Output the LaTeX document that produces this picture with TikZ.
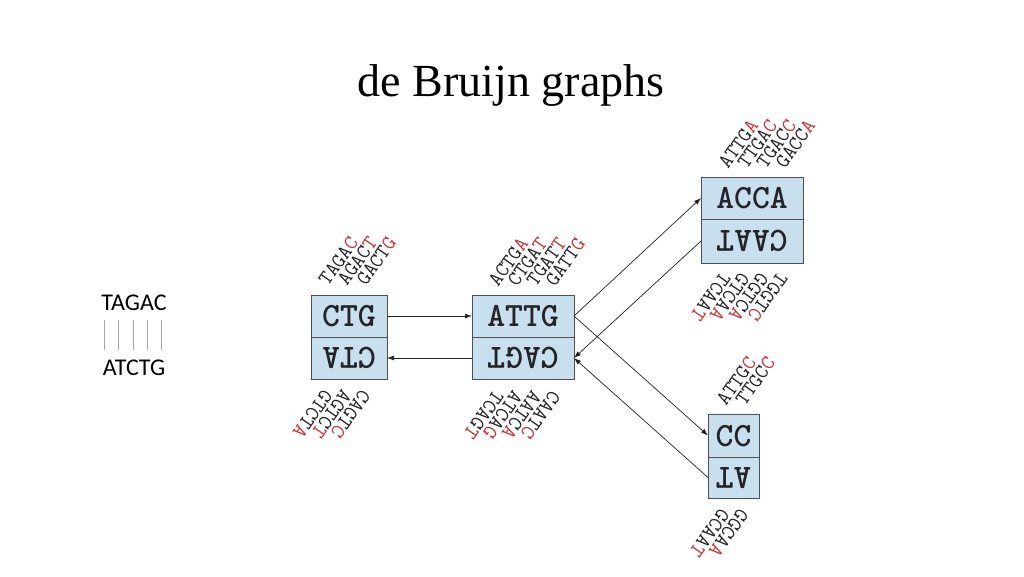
\documentclass[tikz,border=0pt]{standalone}
\usepackage{fontspec}
\setmainfont{Liberation Serif}
\newfontfamily\calib{Carlito}
\usetikzlibrary{arrows.meta}
\definecolor{boxblue}{RGB}{200,224,238}
\definecolor{dred}{RGB}{205,50,55}
\definecolor{ink}{RGB}{35,35,40}
\newcommand{\kl}[2]{#1\textcolor{dred}{#2}}
\tikzset{
  kbox/.style={draw=ink!80, fill=boxblue, line width=0.8pt},
  ktxt/.style={font=\ttfamily\bfseries\fontsize{34}{34}\selectfont, text=ink},
  toplab/.style={font=\ttfamily\fontsize{21}{21}\selectfont, rotate=55, anchor=base west, inner sep=0pt, text=ink},
  botlab/.style={font=\ttfamily\fontsize{21}{21}\selectfont, rotate=235, anchor=base west, inner sep=0pt, text=ink},
  arr/.style={-{Latex[length=7pt,width=5pt]}, draw=ink, line width=0.7pt}
}
\begin{document}
\begin{tikzpicture}[x=1pt,y=-1pt]
\useasboundingbox (0,0) rectangle (1024,576);
\node[font=\fontsize{46}{46}\selectfont] (title) at (511,86) {de Bruijn graphs};
% left strand
\node[font=\calib\fontsize{24}{24}\selectfont] (s1) at (134,303) {TAGAC};
\node[font=\calib\fontsize{24}{24}\selectfont] (s2) at (134,368) {ATCTG};
\foreach \x in {104,118,133,147,161}{\draw[gray!70, line width=0.5pt] (\x,320) -- (\x,350);}
% boxes
\def\mkbox#1#2#3#4#5#6{%
  \draw[kbox] (#2,#3) rectangle (#4,#6);
  \draw[ink!80, line width=0.8pt] (#2,#5) -- (#4,#5);
  \coordinate (#1tl) at (#2,{(#3+#5)/2});
  \coordinate (#1tr) at (#4,{(#3+#5)/2});
  \coordinate (#1bl) at (#2,{(#5+#6)/2});
  \coordinate (#1br) at (#4,{(#5+#6)/2});
}
\mkbox{a}{311}{295}{387}{337}{379}
\mkbox{b}{472}{295}{574}{337}{379}
\mkbox{c}{701}{177}{803}{219}{263}
\mkbox{d}{708}{414}{759}{457}{498}
\node[ktxt] (a1) at (349,316) {CTG};
\node[ktxt,rotate=180] (a2) at (349,358) {CTA};
\node[ktxt] (b1) at (523,316) {ATTG};
\node[ktxt,rotate=180] (b2) at (523,358) {CAGT};
\node[ktxt] (c1) at (752,198) {ACCA};
\node[ktxt,rotate=180] (c2) at (752,241) {CAAT};
\node[ktxt] (d1) at (733.5,436) {CC};
\node[ktxt,rotate=180] (d2) at (733.5,478) {AT};
% arrows
\draw[arr] (atr) -- (btl);
\draw[arr] (bbl) -- (abr);
\draw[arr] (btr) -- (ctl);
\draw[arr] (cbl) -- (bbr);
\draw[arr] (btr) -- (dtl);
\draw[arr] (dbl) -- (bbr);
% top labels
\node[toplab] (t1) at (328,287) {\kl{TAGA}{C}};
\node[toplab] (t2) at (347,287) {\kl{AGAC}{T}};
\node[toplab] (t3) at (366,287) {\kl{GACT}{G}};
\node[toplab] (t4) at (498,288) {\kl{ACTG}{A}};
\node[toplab] (t5) at (517,288) {\kl{CTGA}{T}};
\node[toplab] (t6) at (536,288) {\kl{TGAT}{T}};
\node[toplab] (t7) at (555,288) {\kl{GATT}{G}};
\node[toplab] (t8) at (728,170) {\kl{ATTG}{A}};
\node[toplab] (t9) at (747,170) {\kl{TTGA}{C}};
\node[toplab] (t10) at (766,170) {\kl{TGAC}{C}};
\node[toplab] (t11) at (785,170) {\kl{GACC}{A}};
\node[toplab] (t12) at (726,407) {\kl{ATTG}{C}};
\node[toplab] (t13) at (745,407) {\kl{TTGC}{C}};
% bottom labels
\node[botlab] (u1) at (361,388) {\kl{CAGT}{C}};
\node[botlab] (u2) at (342,388) {\kl{AGTC}{T}};
\node[botlab] (u3) at (323,388) {\kl{GTCT}{A}};
\node[botlab] (u4) at (551,389) {\kl{CAAT}{C}};
\node[botlab] (u5) at (532,389) {\kl{AATC}{A}};
\node[botlab] (u6) at (513,389) {\kl{ATCA}{G}};
\node[botlab] (u7) at (494,389) {\kl{TCAG}{T}};
\node[botlab] (u8) at (778,271) {\kl{TGGT}{C}};
\node[botlab] (u9) at (759,271) {\kl{GGTC}{A}};
\node[botlab] (u10) at (740,271) {\kl{GTCA}{A}};
\node[botlab] (u11) at (721,271) {\kl{TCAA}{T}};
\node[botlab] (u12) at (739,507) {\kl{GGCA}{A}};
\node[botlab] (u13) at (720,507) {\kl{GCAA}{T}};
\end{tikzpicture}
\end{document}
